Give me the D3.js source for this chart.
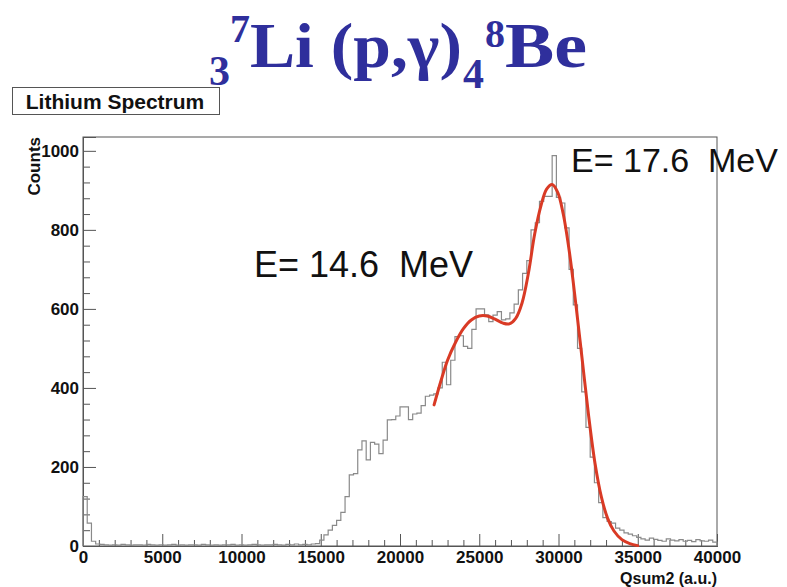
<!DOCTYPE html>
<html>
<head>
<meta charset="utf-8">
<script src="https://cdn.jsdelivr.net/npm/d3@7"></script>
<style>
  html, body { margin: 0; padding: 0; background: #fff; }
  svg { display: block; }
  text { white-space: pre; }
</style>
</head>
<body>
<div id="chart"></div>
<script>
// ---------------- DATA ----------------
const histTitle = "Lithium Spectrum";
const xAxisTitle = "Qsum2 (a.u.)";
const yAxisTitle = "Counts";
const xDomain = [0, 40000];
const yDomain = [0, 1035];
const xMajorTicks = [0, 5000, 10000, 15000, 20000, 25000, 30000, 35000, 40000];
const yMajorTicks = [0, 200, 400, 600, 800, 1000];

// 150 bins over 0 .. 40000
const counts = [
  125, 58, 12, 5,
  4,3,2,3,2,4,3,2,3,3,
  2,4,3,2,3,2,3,4,2,3,
  2,3,3,2,4,3,2,3,2,3,
  3,4,2,3,2,3,4,3,2,3,
  3,4,3,2,4,3,5,3,4,3,
  5,6,
  15,28,40,52,65,85,125,180,183,243,266,218,262,258,234,268,319,320,329,352,352,320,334,336,355,379,382,
  385,400,465,408,470,530,532,505,500,548,600,600,585,568,584,593,572,575,590,612,648,690,722,800,818,872,885,885,988,882,868,805,
  700,610,500,390,300,225,160,110,72,62,58,45,40,33,30,26,22,18,15,20,17,14,12,18,15,13,16,12,14,11,16,13,12,15,10
];

// Fit curve
const fitX = [22150,22600,23000,23500,24000,24500,25000,25500,26000,26500,26900,27300,27700,28100,28500,28900,29250,29600,29950,30300,30700,31100,31500,31900,32300,32700,33100,33500,34000,34500,35000];
const fitY = [357,420,470,515,550,572,582,582,574,564,562,576,615,690,790,862,903,915,895,840,740,610,470,330,210,125,70,38,16,6,1];

const annotations = [
  { text: "E= 14.6  MeV", x: 254, y: 277, size: 36 },
  { text: "E= 17.6  MeV", x: 571, y: 172, size: 34 }
];

// ---------------- LAYOUT ----------------
const W = 787, H = 587;
const plot = { left: 83, right: 717, top: 137, bottom: 546 };

const svg = d3.select("#chart").append("svg")
  .attr("width", W).attr("height", H);

const x = d3.scaleLinear().domain(xDomain).range([plot.left, plot.right]);
const y = d3.scaleLinear().domain(yDomain).range([plot.bottom, plot.top]);

// Title  3 7 Li (p,γ) 4 8 Be
const titleColor = "#2f2f9c";
const tg = svg.append("g")
  .attr("font-family", "'Liberation Serif', 'Times New Roman', serif")
  .attr("font-weight", "bold")
  .attr("fill", titleColor);
tg.append("text").attr("x", 209).attr("y", 85).attr("font-size", 42).text("3");
tg.append("text").attr("x", 230).attr("y", 42).attr("font-size", 40).text("7");
tg.append("text").attr("x", 250).attr("y", 67).attr("font-size", 64)
  .attr("textLength", 212).attr("lengthAdjust", "spacingAndGlyphs").text("Li (p,γ)");
tg.append("text").attr("x", 463).attr("y", 88).attr("font-size", 42).text("4");
tg.append("text").attr("x", 485).attr("y", 47).attr("font-size", 40).text("8");
tg.append("text").attr("x", 505).attr("y", 67).attr("font-size", 64)
  .attr("textLength", 82).attr("lengthAdjust", "spacingAndGlyphs").text("Be");

// Histogram title box
svg.append("rect")
  .attr("x", 12.5).attr("y", 87.5).attr("width", 207).attr("height", 27)
  .attr("fill", "#fff").attr("stroke", "#555").attr("stroke-width", 1);
svg.append("text")
  .attr("x", 115).attr("y", 108.5)
  .attr("text-anchor", "middle")
  .attr("font-family", "'Liberation Sans', Arial, Helvetica, sans-serif")
  .attr("font-weight", "bold").attr("font-size", 21)
  .attr("fill", "#111")
  .text(histTitle);

// Frame
svg.append("rect")
  .attr("x", plot.left).attr("y", plot.top)
  .attr("width", plot.right - plot.left).attr("height", plot.bottom - plot.top)
  .attr("fill", "none").attr("stroke", "#555").attr("stroke-width", 1);

// Axes (ticks pointing inward, ROOT style)
const axFont = "'Liberation Sans', Arial, Helvetica, sans-serif";
const xMinor = d3.range(xDomain[0], xDomain[1] + 1, 1000).filter(v => v % 5000 !== 0);
const yMinor = d3.range(0, 1001, 40).filter(v => v % 200 !== 0);

const gxMinor = svg.append("g").attr("transform", `translate(0,${plot.bottom})`)
  .call(d3.axisBottom(x).tickValues(xMinor).tickSize(-6).tickFormat(""));
const gx = svg.append("g").attr("transform", `translate(0,${plot.bottom})`)
  .call(d3.axisBottom(x).tickValues(xMajorTicks).tickSize(-12).tickPadding(5).tickFormat(d3.format("d")));
const gyMinor = svg.append("g").attr("transform", `translate(${plot.left},0)`)
  .call(d3.axisLeft(y).tickValues(yMinor).tickSize(-7).tickFormat(""));
const gy = svg.append("g").attr("transform", `translate(${plot.left},0)`)
  .call(d3.axisLeft(y).tickValues(yMajorTicks).tickSize(-13).tickPadding(4).tickFormat(d3.format("d")));

[gx, gy, gxMinor, gyMinor].forEach(g => {
  g.select(".domain").attr("stroke", "#555");
  g.selectAll(".tick line").attr("stroke", "#555").attr("stroke-width", 1);
  g.selectAll(".tick text")
    .attr("font-family", axFont).attr("font-weight", "bold")
    .attr("font-size", 17).attr("fill", "#111");
});
gx.selectAll(".tick text").attr("dy", "0.71em");

// Axis titles
svg.append("text")
  .attr("x", plot.right).attr("y", 584)
  .attr("text-anchor", "end")
  .attr("font-family", axFont).attr("font-weight", "bold").attr("font-size", 16)
  .attr("fill", "#111")
  .text(xAxisTitle);
svg.append("text")
  .attr("transform", `translate(40,${plot.top}) rotate(-90)`)
  .attr("text-anchor", "end")
  .attr("font-family", axFont).attr("font-weight", "bold").attr("font-size", 17)
  .attr("fill", "#111")
  .text(yAxisTitle);

// Histogram step outline
const nb = counts.length;
const bw = (xDomain[1] - xDomain[0]) / nb;
const stepPts = [[xDomain[0], 0]];
counts.forEach((c, i) => {
  stepPts.push([xDomain[0] + i * bw, c]);
  stepPts.push([xDomain[0] + (i + 1) * bw, c]);
});
stepPts.push([xDomain[1], 0]);
svg.append("path")
  .datum(stepPts)
  .attr("fill", "none")
  .attr("stroke", "#8a8a8a")
  .attr("stroke-width", 1.2)
  .attr("d", d3.line().x(d => x(d[0])).y(d => y(d[1])));

// Fit curve
const fitPts = fitX.map((v, i) => [v, fitY[i]]);
svg.append("path")
  .datum(fitPts)
  .attr("fill", "none")
  .attr("stroke", "#d93a25")
  .attr("stroke-width", 3)
  .attr("stroke-linecap", "round")
  .attr("d", d3.line().curve(d3.curveCatmullRom.alpha(0.5)).x(d => x(d[0])).y(d => y(d[1])));

// Annotations
annotations.forEach(a => {
  svg.append("text")
    .attr("x", a.x).attr("y", a.y)
    .attr("font-family", axFont).attr("font-size", a.size)
    .attr("fill", "#111")
    .text(a.text);
});
</script>
</body>
</html>
